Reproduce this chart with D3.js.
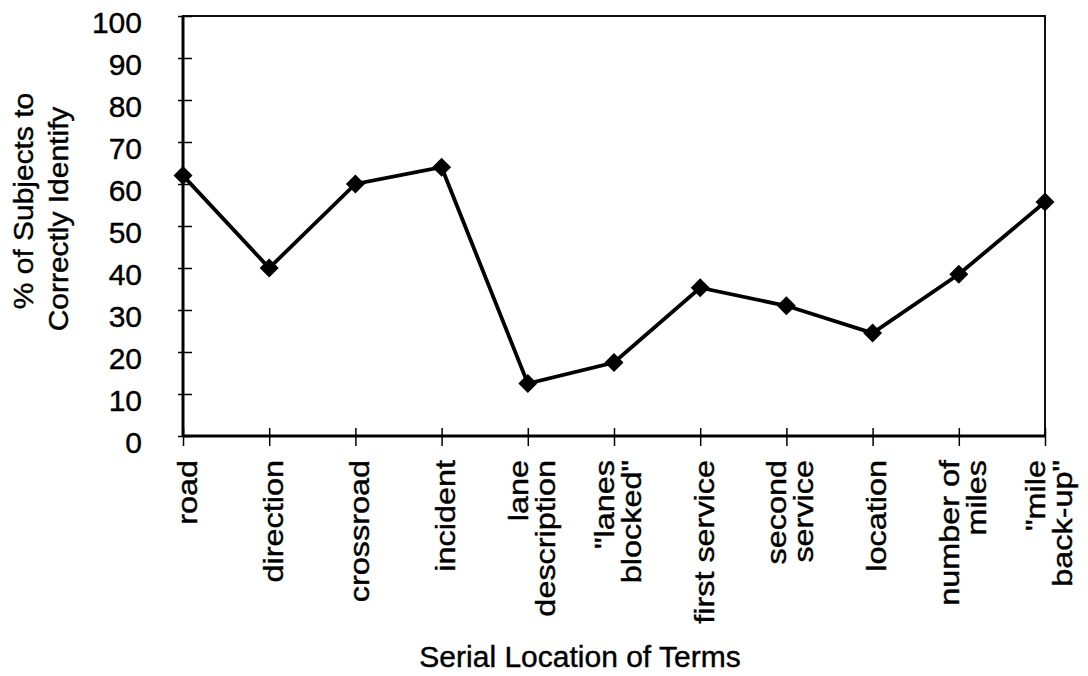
<!DOCTYPE html>
<html>
<head>
    <script src="https://d3js.org/d3.v7.min.js"></script>
    <style>
        body { margin: 0; background: #fff; }
        text { font-family: "Liberation Sans", Arial, Helvetica, sans-serif; fill: #000; stroke: #000; stroke-width: 0.4px; }
    </style>
</head>
<body>
<script>
    // data
    var terms = ["road", "direction", "crossroad", "incident", "lane description",
                 "\"lanes blocked\"", "first service", "second service", "location",
                 "number of miles", "\"mile back-up\""];
    // how each term label is broken into lines
    var termLines = [["road"], ["direction"], ["crossroad"], ["incident"], ["lane", "description"],
                     ["\"lanes", "blocked\""], ["first service"], ["second", "service"], ["location"],
                     ["number of", "miles"], ["\"mile", "back-up\""]];
    var percentCorrect = [62, 40, 60, 64, 12.5, 17.5, 35.3, 31, 24.5, 38.5, 55.7];
    var yTicks = [0, 10, 20, 30, 40, 50, 60, 70, 80, 90, 100];

    // set the dimensions and margins of the graph
    var margin = {top: 16, right: 43, bottom: 240, left: 183},
        width = 1088 - margin.left - margin.right,
        height = 676 - margin.top - margin.bottom;

    var x = d3.scalePoint().domain(terms).range([0, width]).padding(0);
    var y = d3.scaleLinear().domain([0, 100]).range([height, 0]);

    var svg = d3.select("body").append("svg")
        .attr("width", 1088)
        .attr("height", 676)
        .append("g")
        .attr("transform", "translate(" + margin.left + "," + margin.top + ")");

    // plot frame (top and right thinner)
    svg.append("rect")
        .attr("x", 0).attr("y", 0)
        .attr("width", width).attr("height", height)
        .attr("fill", "none")
        .attr("stroke", "#111")
        .attr("stroke-width", 2);

    // y axis: ticks cross the axis line
    var yAxis = d3.axisLeft(y).tickValues(yTicks).tickSize(0).tickFormat(d3.format("d"));
    var gy = svg.append("g").call(yAxis);
    gy.select(".domain").remove();
    gy.selectAll(".tick line").remove();
    gy.selectAll(".tick").append("line")
        .attr("x1", -5).attr("x2", 9)
        .attr("stroke", "#000").attr("stroke-width", 1.5);
    gy.selectAll(".tick text")
        .attr("x", -41)
        .attr("dy", 16)
        .attr("fill", "#000")
        .style("font-size", "30px")
        .style("font-family", "'Liberation Sans', Arial, sans-serif")
        .attr("text-anchor", "end");

    // x axis: ticks cross the axis line, labels handled below
    var xAxis = d3.axisBottom(x).tickSize(0).tickFormat("");
    var gx = svg.append("g").attr("transform", "translate(0," + height + ")").call(xAxis);
    gx.select(".domain").remove();
    gx.selectAll(".tick line").remove();
    gx.selectAll(".tick").append("line")
        .attr("y1", -8).attr("y2", 10)
        .attr("stroke", "#000").attr("stroke-width", 1.5);

    // heavier left and bottom axis lines
    svg.append("line")
        .attr("x1", 0).attr("x2", 0).attr("y1", 0).attr("y2", height)
        .attr("stroke", "#000").attr("stroke-width", 3);
    svg.append("line")
        .attr("x1", 0).attr("x2", width).attr("y1", height).attr("y2", height)
        .attr("stroke", "#000").attr("stroke-width", 3);

    // rotated category labels (the rotated text in the original is stretched lengthwise)
    var lineGap = 27;
    gx.selectAll(".tick").each(function(d, i) {
        var lines = termLines[i];
        var n = lines.length;
        var g = d3.select(this);
        lines.forEach(function(txt, j) {
            var off = 13 + (j - (n - 1) / 2) * lineGap;
            g.append("text")
                .attr("transform", "translate(" + off + ",24) rotate(-90) scale(1.2,1)")
                .attr("text-anchor", "end")
                .attr("fill", "#000")
                .style("font-size", "27px")
                .style("font-family", "'Liberation Sans', Arial, sans-serif")
                .text(txt);
        });
    });

    // the data line
    var line = d3.line()
        .x(function(d, i) { return x(terms[i]); })
        .y(function(d) { return y(d); });

    svg.append("path")
        .datum(percentCorrect)
        .attr("d", line)
        .attr("fill", "none")
        .attr("stroke", "#000")
        .attr("stroke-width", 3.8)
        .attr("stroke-linejoin", "miter");

    // diamond markers
    svg.selectAll(".marker")
        .data(percentCorrect)
        .enter().append("path")
        .attr("class", "marker")
        .attr("d", d3.symbol().type(d3.symbolSquare).size(180))
        .attr("transform", function(d, i) {
            return "translate(" + x(terms[i]) + "," + y(d) + ") rotate(45)";
        })
        .attr("fill", "#000");

    // axis titles
    svg.append("text")
        .attr("x", 580 - margin.left)
        .attr("y", height + 231)
        .attr("text-anchor", "middle")
        .style("font-size", "30px")
        .text("Serial Location of Terms");

    svg.append("text")
        .attr("transform", "translate(" + (33 - margin.left) + "," + (201 - margin.top) + ") rotate(-90) scale(1.07,1)")
        .attr("text-anchor", "middle")
        .style("font-size", "28px")
        .text("% of Subjects to");
    svg.append("text")
        .attr("transform", "translate(" + (68 - margin.left) + "," + (219 - margin.top) + ") rotate(-90) scale(1.07,1)")
        .attr("text-anchor", "middle")
        .style("font-size", "28px")
        .text("Correctly Identify");
</script>
</body>
</html>
